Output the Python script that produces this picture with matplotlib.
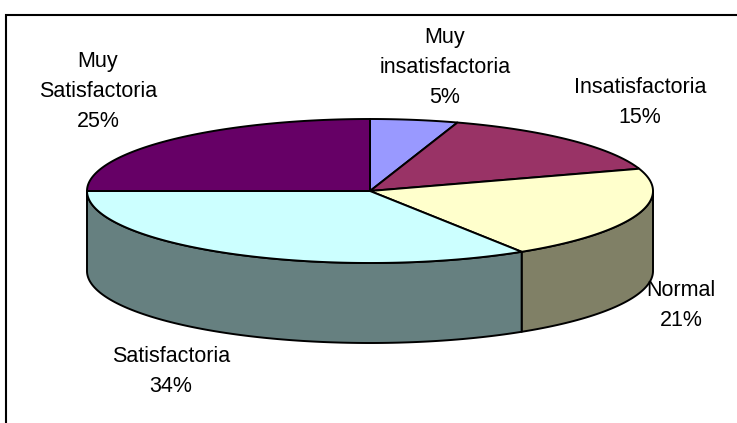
import numpy as np
import matplotlib.pyplot as plt
from matplotlib.patches import Polygon

# datos del grafico
categorias = ['Muy\ninsatisfactoria', 'Insatisfactoria', 'Normal',
              'Satisfactoria', 'Muy\nSatisfactoria']
porcentajes = [5, 15, 21, 34, 25]

colores = ['#9999FF', '#993366', '#FFFFCC', '#CCFFFF', '#660066']
colores_lado = ['#4D4D80', '#4D1A33', '#808066', '#668080', '#330033']

# posicion de las etiquetas (centro x, linea base de la primera linea)
pos_etiquetas = [(445, 43), (640, 93), (681, 296), (171, 362), (98, 67)]

W, H = 737, 423
fig = plt.figure(figsize=(W / 100, H / 100), dpi=100)
ax = fig.add_axes([0, 0, 1, 1])
ax.set_xlim(0, W)
ax.set_ylim(H, 0)
ax.axis('off')

# geometria del pastel 3D
cx, cy = 370, 191
rx, ry = 283, 72
prof = 80


def elipse(t):
    t = np.radians(t)
    return cx + rx * np.cos(t), cy - ry * np.sin(t)


acum = np.concatenate([[0], np.cumsum(porcentajes)])
inicio = 90 - 3.6 * acum[:-1]
fin = 90 - 3.6 * acum[1:]

# paredes laterales (solo la mitad frontal)
for i in range(len(porcentajes)):
    hi = min(inicio[i], 0)
    lo = max(fin[i], -180)
    if hi <= lo:
        continue
    t = np.linspace(hi, lo, 120)
    x, y = elipse(t)
    xs = np.concatenate([x, x[::-1]])
    ys = np.concatenate([y, (y + prof)[::-1]])
    ax.add_patch(Polygon(np.column_stack([xs, ys]), closed=True,
                         facecolor=colores_lado[i], edgecolor='black',
                         linewidth=1.4, joinstyle='round'))

# caras superiores
for i in range(len(porcentajes)):
    t = np.linspace(inicio[i], fin[i], 120)
    x, y = elipse(t)
    xs = np.concatenate([[cx], x])
    ys = np.concatenate([[cy], y])
    ax.add_patch(Polygon(np.column_stack([xs, ys]), closed=True,
                         facecolor=colores[i], edgecolor='black',
                         linewidth=1.4, joinstyle='round'))

# etiquetas
for i, (cat, p) in enumerate(zip(categorias, porcentajes)):
    lineas = cat.split('\n') + ['%d%%' % p]
    x0, y0 = pos_etiquetas[i]
    for k, linea in enumerate(lineas):
        ax.text(x0, y0 + 30 * k, linea, ha='center', va='baseline',
                fontsize=15.5, family=['Liberation Sans', 'DejaVu Sans'],
                color='black')

# marco del area del grafico
ax.plot([6, 6, W], [H, 15, 15], color='black', linewidth=1.5,
        solid_joinstyle='miter')

fig.savefig('out.png', dpi=100)
